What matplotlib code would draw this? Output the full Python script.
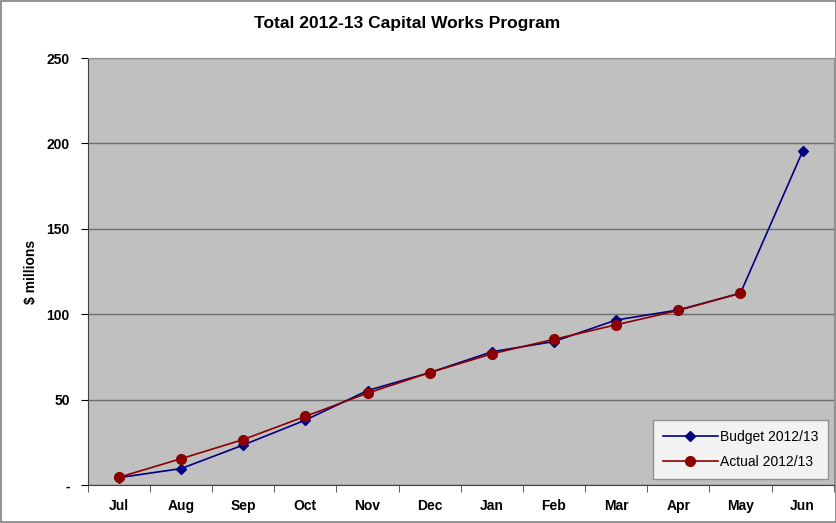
import numpy as np
import matplotlib
matplotlib.use("Agg")
import matplotlib.pyplot as plt
from matplotlib.patches import Rectangle

plt.rcParams['font.family'] = ['Liberation Sans', 'DejaVu Sans']

months = ["Jul", "Aug", "Sep", "Oct", "Nov", "Dec", "Jan", "Feb", "Mar", "Apr", "May", "Jun"]
budget = [4.3, 9.6, 23.4, 38.0, 55.3, 65.8, 78.0, 84.0, 96.6, 102.5, 112.3, 195.3]
actual = [4.5, 15.4, 26.6, 40.2, 53.8, 65.8, 76.8, 85.3, 93.8, 102.2, 112.3]
yticks = [0, 50, 100, 150, 200, 250]
ylabels = ["-", "50", "100", "150", "200", "250"]

fig = plt.figure(figsize=(8.37, 5.23), dpi=100)
fig.patch.set_facecolor("white")
fig.patches.append(Rectangle((0.001, 0.001), 0.998, 0.997, transform=fig.transFigure,
                             fill=False, edgecolor="#808080", linewidth=1.2))

ax = fig.add_axes([0.105, 0.0727, 0.891, 0.8163])
ax.set_facecolor("#C0C0C0")

x = np.arange(len(months))
ax.plot(x, budget, color="#000080", marker="D", markersize=5, linewidth=1.2,
        label="Budget 2012/13", zorder=3)
ax.plot(x[:len(actual)], actual, color="#8B0000", marker="o", markersize=7, linewidth=1.2,
        label="Actual 2012/13", zorder=4)

ax.set_xlim(-0.5, len(months) - 0.5)
ax.set_ylim(0, 250)
ax.set_yticks(yticks)
ax.set_yticklabels(ylabels, fontsize=10, fontweight="bold")
ax.set_xticks(x)
ax.set_xticklabels(months, fontsize=10, fontweight="bold")
ax.tick_params(axis="x", length=0, pad=10)
ax.set_xticks(np.arange(-0.5, len(months)), minor=True)
ax.tick_params(axis="x", which="minor", length=5, direction="out", color="#404040")
ax.tick_params(axis="y", length=5, direction="out", pad=8)

ax.yaxis.grid(True, color="#6e6e6e", linewidth=1.0)
ax.set_axisbelow(True)
for side in ["top", "right"]:
    ax.spines[side].set_color("#909090")
ax.spines["left"].set_color("#404040")
ax.spines["bottom"].set_color("#404040")

ax.set_ylabel("$ millions", fontsize=10, fontweight="bold", labelpad=6)
fig.suptitle("Total 2012-13 Capital Works Program", x=0.487, y=0.97,
             fontsize=12.5, fontweight="bold")

leg = ax.legend(loc="lower right", bbox_to_anchor=(0.9975, 0.005), fontsize=10,
                frameon=True, fancybox=False, edgecolor="#808080",
                borderpad=0.7, labelspacing=0.8, handlelength=4.0, handletextpad=0.1,
                borderaxespad=0.3)
leg.get_frame().set_facecolor("white")
leg.get_frame().set_linewidth(1.0)

fig.savefig("out.png", dpi=100)
